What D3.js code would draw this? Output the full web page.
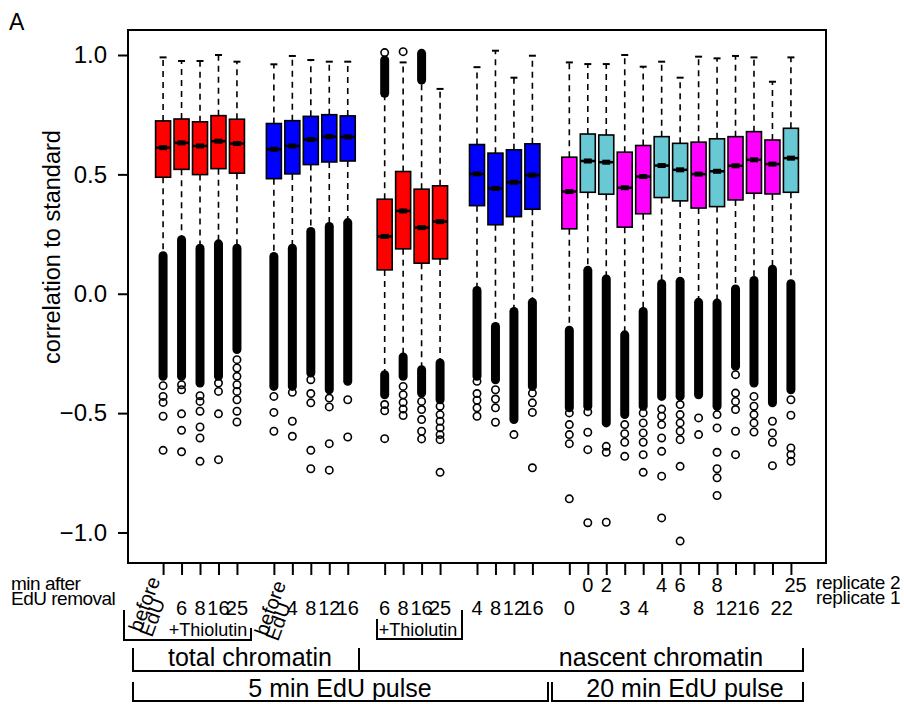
<!DOCTYPE html>
<html lang="en">
<head>
<meta charset="UTF-8">
<title>correlation to standard</title>
<script src="https://cdn.jsdelivr.net/npm/d3@7"></script>
<style>
  body { margin: 0; background: #fff; }
  text { font-family: "Liberation Sans", Arial, sans-serif; fill: #000; }
</style>
</head>
<body>
<script>
// box positions (slot number along the x axis) and fill colours
const slots = [1,2,3,4,5, 7,8,9,10,11, 13,14,15,16, 18,19,20,21,
               23,24,25,26,27,28,29,30,31,32,33,34,35];
const boxColor = ['R','R','R','R','R', 'B','B','B','B','B', 'R','R','R','R', 'B','B','B','B',
                  'M','C','C','M','M','C','C','M','C','M','M','M','C'];

// box statistics
const whiskerHigh = [0.99,0.975,0.975,1.0,0.972, 0.961,0.996,0.979,0.972,0.972,
                     0.83,0.969,0.89,0.858, 0.949,1.018,0.905,0.997,
                     0.969,0.962,0.962,1.0,0.951,0.972,0.905,0.993,0.986,0.996,0.99,0.888,0.99];
const q3 = [0.724,0.732,0.72,0.746,0.731, 0.713,0.725,0.743,0.75,0.745,
            0.396,0.512,0.438,0.452, 0.625,0.589,0.603,0.628,
            0.572,0.669,0.665,0.593,0.621,0.658,0.63,0.635,0.649,0.658,0.679,0.644,0.693];
const median = [0.612,0.632,0.619,0.639,0.629, 0.605,0.619,0.646,0.658,0.657,
                0.24,0.347,0.277,0.302, 0.502,0.441,0.467,0.497,
                0.428,0.556,0.551,0.444,0.491,0.537,0.519,0.501,0.513,0.536,0.561,0.543,0.568];
const q1 = [0.488,0.521,0.499,0.524,0.505, 0.482,0.502,0.541,0.552,0.556,
            0.1,0.188,0.128,0.146, 0.369,0.289,0.323,0.354,
            0.272,0.425,0.417,0.279,0.335,0.403,0.389,0.359,0.365,0.393,0.421,0.418,0.425];

// dense run of low outliers (solid column): top and bottom
const lowDenseTop = [0.159,0.226,0.191,0.209,0.191, 0.156,0.191,0.261,0.282,0.298,
                     -0.339,-0.265,-0.318,-0.29, 0.014,-0.137,-0.074,-0.036,
                     -0.153,0.098,0.062,-0.172,-0.074,0.042,0.052,-0.036,-0.039,0.02,0.056,0.103,0.042];
const lowDenseBottom = [-0.346,-0.346,-0.374,-0.346,-0.234, -0.388,-0.388,-0.332,-0.402,-0.367,
                        -0.423,-0.346,-0.416,-0.444, -0.346,-0.36,-0.527,-0.388,
                        -0.478,-0.471,-0.541,-0.506,-0.471,-0.43,-0.43,-0.423,-0.471,-0.304,-0.374,-0.457,-0.402];
// single low outliers below the dense run
const lowOutliers = [
  [-0.385,-0.43,-0.455,-0.513,-0.656],
  [-0.381,-0.402,-0.503,-0.572,-0.662],
  [-0.427,-0.451,-0.492,-0.558,-0.604,-0.702],
  [-0.374,-0.409,-0.503,-0.695],
  [-0.276,-0.311,-0.346,-0.381,-0.409,-0.444,-0.492,-0.537],
  [-0.43,-0.497,-0.576],
  [-0.413,-0.534,-0.597],
  [-0.36,-0.418,-0.457,-0.656,-0.733],
  [-0.437,-0.474,-0.628,-0.739],
  [-0.444,-0.6],
  [-0.464,-0.49,-0.607],
  [-0.388,-0.423,-0.455,-0.483,-0.51],
  [-0.451,-0.485,-0.527,-0.576,-0.608],
  [-0.471,-0.506,-0.534,-0.562,-0.59,-0.611,-0.748],
  [-0.367,-0.418,-0.446,-0.478,-0.513],
  [-0.402,-0.441,-0.478,-0.538],
  [-0.59],
  [-0.416,-0.457,-0.497,-0.729],
  [-0.499,-0.548,-0.59,-0.628,-0.859],
  [-0.495,-0.58,-0.653,-0.959],
  [-0.639,-0.664,-0.957],
  [-0.548,-0.586,-0.622,-0.681],
  [-0.499,-0.541,-0.583,-0.622,-0.674,-0.748],
  [-0.483,-0.513,-0.548,-0.604,-0.66,-0.764,-0.939],
  [-0.464,-0.506,-0.541,-0.576,-0.611,-0.723,-1.036],
  [-0.52,-0.59],
  [-0.506,-0.562,-0.664,-0.733,-0.771,-0.845],
  [-0.339,-0.416,-0.451,-0.485,-0.576,-0.674],
  [-0.43,-0.471,-0.506,-0.541,-0.579],
  [-0.534,-0.583,-0.622,-0.72],
  [-0.444,-0.509,-0.646,-0.674,-0.702]
];
// high outliers (only the 5 min +Thiolutin nascent boxes have them)
const highDense = {10: [0.84, 0.979], 12: [0.895, 1.007]};
const highOutliers = {10: [1.01], 11: [1.014]};

// tick labels: [slot, text]
const rep1Labels = [[2,'6'],[3,'8'],[4,'16'],[5,'25'], [8,'4'],[9,'8'],[10,'12'],[11,'16'],
                    [13,'6'],[14,'8'],[15,'16'],[16,'25'], [18,'4'],[19,'8'],[20,'12'],[21,'16'],
                    [23,'0'],[26,'3'],[27,'4'],[30,'8'],[31.5,'12'],[32.7,'16'],[34.5,'22']];
const rep2Labels = [[24,'0'],[25,'2'],[28,'4'],[29,'6'],[31,'8'],[35.25,'25']];
const yTicks = [-1, -0.5, 0, 0.5, 1];

const colors = {R: '#ff0000', B: '#0000ff', M: '#ff00ff', C: '#68c8d4'};

const width = 904, height = 704;
const mLeft = 128, mRight = 826, mTop = 30, mBottom = 563;

const svg = d3.select('body').append('svg')
    .attr('width', width).attr('height', height)
    .style('background', '#fff');

const x = d3.scaleLinear().domain([-0.9, 36.9]).range([mLeft, mRight]);
const y = d3.scaleLinear().domain([-1, 1]).range([532.5, 55]);

const boxW = 15, capW = 7, r = 3.7;
const boxes = slots.map((s, i) => ({i, s, c: colors[boxColor[i]]}));

// whiskers
const wh = svg.append('g').attr('stroke', '#000').attr('stroke-width', 1.6).attr('stroke-dasharray', '6,5');
wh.selectAll('.up').data(boxes).enter().append('line')
    .attr('x1', d => x(d.s)).attr('x2', d => x(d.s))
    .attr('y1', d => y(q3[d.i])).attr('y2', d => y(whiskerHigh[d.i]));
wh.selectAll('.lo').data(boxes).enter().append('line')
    .attr('x1', d => x(d.s)).attr('x2', d => x(d.s))
    .attr('y1', d => y(q1[d.i])).attr('y2', d => y(lowDenseTop[d.i]));
svg.append('g').selectAll('line').data(boxes).enter().append('line')
    .attr('stroke', '#000').attr('stroke-width', 2)
    .attr('x1', d => x(d.s) - capW / 2).attr('x2', d => x(d.s) + capW / 2)
    .attr('y1', d => y(whiskerHigh[d.i])).attr('y2', d => y(whiskerHigh[d.i]));

// boxes
svg.append('g').selectAll('rect').data(boxes).enter().append('rect')
    .attr('x', d => x(d.s) - boxW / 2).attr('width', boxW)
    .attr('y', d => y(q3[d.i])).attr('height', d => y(q1[d.i]) - y(q3[d.i]))
    .attr('fill', d => d.c).attr('stroke', '#000').attr('stroke-width', 1.6);

// medians
const med = svg.append('g');
med.selectAll('line').data(boxes).enter().append('line')
    .attr('stroke', '#000').attr('stroke-width', 2.5)
    .attr('x1', d => x(d.s) - boxW / 2).attr('x2', d => x(d.s) + boxW / 2)
    .attr('y1', d => y(median[d.i])).attr('y2', d => y(median[d.i]));
med.selectAll('rect').data(boxes).enter().append('rect')
    .attr('fill', '#000')
    .attr('x', d => x(d.s) - 4).attr('width', 8)
    .attr('y', d => y(median[d.i]) - 2.5).attr('height', 5);

// outliers: dense runs drawn as solid columns, the rest as open circles
function denseColumn(g, s, hi, lo) {
  g.append('rect')
      .attr('x', x(s) - r - 0.8).attr('width', 2 * r + 1.6)
      .attr('y', y(hi) - r - 0.8).attr('height', y(lo) - y(hi) + 2 * r + 1.6)
      .attr('rx', r + 0.8).attr('fill', '#000');
}
const outG = svg.append('g');
boxes.forEach(d => {
  denseColumn(outG, d.s, lowDenseTop[d.i], lowDenseBottom[d.i]);
  if (highDense[d.i]) denseColumn(outG, d.s, highDense[d.i][1], highDense[d.i][0]);
});
const pts = [];
boxes.forEach(d => {
  lowOutliers[d.i].forEach(v => pts.push({s: d.s, v}));
  (highOutliers[d.i] || []).forEach(v => pts.push({s: d.s, v}));
});
outG.selectAll('circle').data(pts).enter().append('circle')
    .attr('cx', d => x(d.s)).attr('cy', d => y(d.v)).attr('r', r)
    .attr('fill', 'none').attr('stroke', '#000').attr('stroke-width', 1.6);

// frame
svg.append('rect').attr('x', mLeft).attr('y', mTop)
    .attr('width', mRight - mLeft).attr('height', mBottom - mTop)
    .attr('fill', 'none').attr('stroke', '#000').attr('stroke-width', 2);

// y axis
const yAxis = svg.append('g').attr('transform', `translate(${mLeft},0)`)
    .call(d3.axisLeft(y).tickValues(yTicks).tickSize(10).tickPadding(11)
      .tickFormat(d => d3.format('.1f')(d).replace('-', '\u2212')));
yAxis.select('.domain').remove();
yAxis.selectAll('line').attr('stroke-width', 2);
yAxis.selectAll('text').attr('font-size', 24).attr('font-family', '"Liberation Sans", Arial, sans-serif');

// x axis ticks (no labels, the labels are placed by hand below)
const xAxis = svg.append('g').attr('transform', `translate(0,${mBottom})`)
    .call(d3.axisBottom(x).tickValues(slots).tickSize(12).tickFormat(''));
xAxis.select('.domain').remove();
xAxis.selectAll('line').attr('stroke-width', 2);

svg.append('text').attr('x', 9).attr('y', 30).attr('font-size', 23).text('A');
svg.append('text').attr('transform', 'translate(60,247) rotate(-90)')
    .attr('text-anchor', 'middle').attr('font-size', 23.5).text('correlation to standard');

// x labels
const lab = svg.append('g').attr('font-size', 20).attr('text-anchor', 'middle');
lab.selectAll('.r1').data(rep1Labels).enter().append('text')
    .attr('x', d => x(d[0])).attr('y', 615).text(d => d[1]);
lab.selectAll('.r2').data(rep2Labels).enter().append('text')
    .attr('x', d => x(d[0])).attr('y', 592).text(d => d[1]);

const side = svg.append('g').attr('font-size', 19);
side.append('text').attr('x', 11).attr('y', 590).attr('letter-spacing', -0.5).text('min after');
side.append('text').attr('x', 11).attr('y', 605).attr('letter-spacing', -0.5).text('EdU removal');
side.append('text').attr('x', 816).attr('y', 589).attr('letter-spacing', -0.3).text('replicate 2');
side.append('text').attr('x', 816).attr('y', 604).attr('letter-spacing', -0.3).text('replicate 1');

// rotated "before EdU" labels, start of baseline: [slot, dx, y] for "before", EdU follows down-right
const beforeLabels = [[1, -22, 633], [7, -7, 637]];
beforeLabels.forEach(b => {
  const bx = x(b[0]) + b[1];
  svg.append('text').attr('font-size', 20)
      .attr('transform', `translate(${bx},${b[2]}) rotate(-70)`).text('before');
  svg.append('text').attr('font-size', 20)
      .attr('transform', `translate(${bx + 11},${b[2] + 5}) rotate(-70)`).text('EdU');
});

// brackets
const br = svg.append('g').attr('fill', 'none').attr('stroke', '#000').attr('stroke-width', 2);
br.append('path').attr('d', 'M124,610V640H251V628');
br.append('path').attr('d', 'M377,619V639H462V610');
br.append('path').attr('d', 'M133,648V671H803V648M359,648V671');
br.append('path').attr('d', 'M133,682V701H548V682');
br.append('path').attr('d', 'M552,682V701H803V682');

const ann = svg.append('g').attr('text-anchor', 'middle');
ann.append('text').attr('x', 208).attr('y', 636).attr('font-size', 18).text('+Thiolutin');
ann.append('text').attr('x', 418).attr('y', 636).attr('font-size', 18).text('+Thiolutin');
ann.append('text').attr('x', 250).attr('y', 666).attr('font-size', 25).text('total chromatin');
ann.append('text').attr('x', 661).attr('y', 666).attr('font-size', 25).text('nascent chromatin');
ann.append('text').attr('x', 340).attr('y', 697).attr('font-size', 25).text('5 min EdU pulse');
ann.append('text').attr('x', 685).attr('y', 697).attr('font-size', 25).text('20 min EdU pulse');
</script>
</body>
</html>
